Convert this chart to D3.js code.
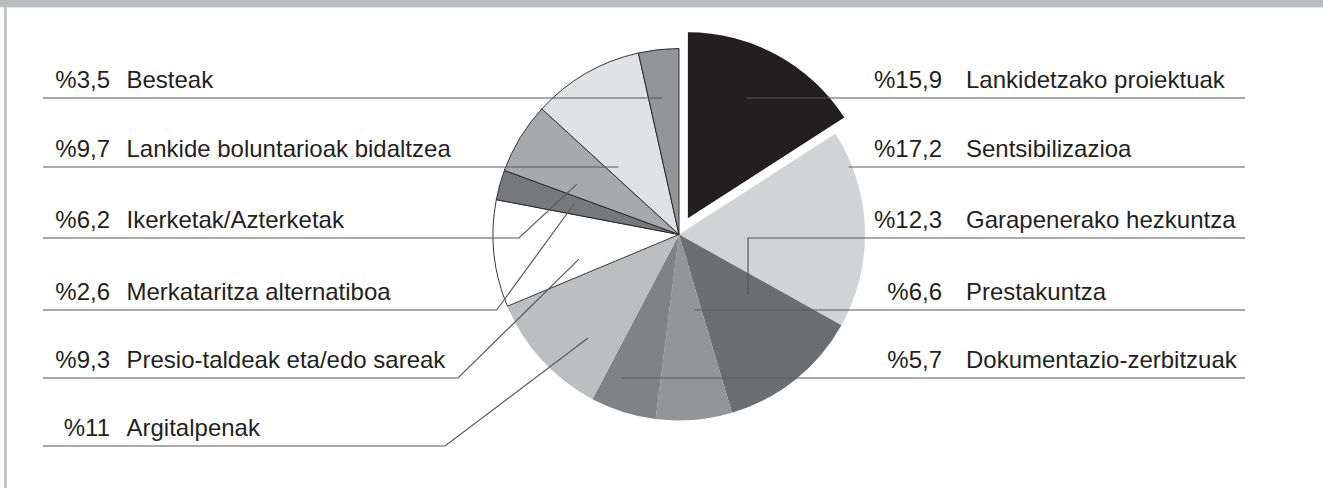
<!DOCTYPE html>
<html>
<head>
<meta charset="utf-8">
<script src="https://cdn.jsdelivr.net/npm/d3@7"></script>
<style>
  html, body { margin: 0; padding: 0; background: #ffffff; }
  svg { display: block; }
  text { font-family: "Liberation Sans", Arial, Helvetica, sans-serif; fill: #231f20; }
</style>
</head>
<body>
<svg id="chart" width="1323" height="488"></svg>
<script>
// ---- data ----
const categories = [
  "Lankidetzako proiektuak",
  "Sentsibilizazioa",
  "Garapenerako hezkuntza",
  "Prestakuntza",
  "Dokumentazio-zerbitzuak",
  "Argitalpenak",
  "Presio-taldeak eta/edo sareak",
  "Merkataritza alternatiboa",
  "Ikerketak/Azterketak",
  "Lankide boluntarioak bidaltzea",
  "Besteak"
];
const values = [15.9, 17.2, 12.3, 6.6, 5.7, 11, 9.3, 2.6, 6.2, 9.7, 3.5];
const valueLabels = ["%15,9", "%17,2", "%12,3", "%6,6", "%5,7", "%11", "%9,3", "%2,6", "%6,2", "%9,7", "%3,5"];

// ---- styling / layout (not data) ----
const colors = ["#231f20", "#d1d3d4", "#6d6e71", "#939598", "#808285", "#bcbec0",
                "#ffffff", "#77787b", "#a7a9ac", "#e1e2e3", "#939598"];
const outlined = [false, false, false, false, false, false, true, true, true, true, true];
const exploded = [true, false, false, false, false, false, false, false, false, false, false];
// label side and row (rows top to bottom)
const side = ["right", "right", "right", "right", "right", "left", "left", "left", "left", "left", "left"];
const row  = [0, 1, 2, 3, 4, 5, 4, 3, 2, 1, 0];
const rowY = [98, 167, 238, 310, 378, 446];
// leader tips in polar coords (deg clockwise from top, radius px) and optional elbow x
const tipAngle = [26.6, 68.5, 131.2, 168, 201.7, 221.3, 256.2, 286.2, 296.1, 318, 352.9];
const tipRadius = [133.5, 183, 91.8, 77.2, 154.4, 137.8, 103, 109.3, 114, 91.2, 137.3];
const elbowX = [null, null, null, null, null, 445, 458, 496.7, 519, null, null];

const W = 1323, H = 488;
const cx = 679, cy = 234.5, R = 186, explode = 18.5;

const svg = d3.select("#chart");

// frame
svg.append("rect").attr("x", 0).attr("y", 0).attr("width", W).attr("height", 7.3).attr("fill", "#bbbcbe");
svg.append("rect").attr("x", 4.2).attr("y", 0).attr("width", 2.5).attr("height", H).attr("fill", "#bbbcbe");

const pie = d3.pie().sort(null).value(d => d).startAngle(0).endAngle(2 * Math.PI);
const arcs = pie(values);
const arc = d3.arc().innerRadius(0).outerRadius(R);

const g = svg.append("g").attr("transform", `translate(${cx},${cy})`);

function offsetOf(i) {
  if (!exploded[i]) return [0, 0];
  const a = (arcs[i].startAngle + arcs[i].endAngle) / 2;
  return [explode * Math.sin(a), -explode * Math.cos(a)];
}

g.selectAll("path.slice")
  .data(arcs)
  .join("path")
  .attr("class", "slice")
  .attr("d", arc)
  .attr("transform", (d, i) => { const o = offsetOf(i); return `translate(${o[0]},${o[1]})`; })
  .attr("fill", (d, i) => colors[i])
  .attr("stroke", (d, i) => outlined[i] ? "#231f20" : "none")
  .attr("stroke-width", 0.9)
  .attr("stroke-linejoin", "round");

// leader lines
const leaders = svg.append("g").attr("fill", "none").attr("stroke", "#58595b").attr("stroke-width", 1.2);
const lineLeft = 43, lineRight = 1245;

categories.forEach((c, i) => {
  const o = offsetOf(i);
  const a = tipAngle[i] * Math.PI / 180;
  const tx = cx + o[0] + tipRadius[i] * Math.sin(a);
  const ty = cy + o[1] - tipRadius[i] * Math.cos(a);
  const y = rowY[row[i]];
  const ex = elbowX[i] != null ? elbowX[i] : tx;
  const startX = side[i] === "right" ? lineRight : lineLeft;
  const p = d3.path();
  p.moveTo(startX, y);
  p.lineTo(ex, y);
  p.lineTo(tx, ty);
  leaders.append("path").attr("d", p.toString());
});

// labels
const labels = svg.append("g").attr("font-size", 24);
categories.forEach((c, i) => {
  const y = rowY[row[i]] - 10.5;
  if (side[i] === "right") {
    labels.append("text").attr("x", 942).attr("y", y).attr("text-anchor", "end").text(valueLabels[i]);
    labels.append("text").attr("x", 966).attr("y", y).text(c);
  } else {
    labels.append("text").attr("x", 110).attr("y", y).attr("text-anchor", "end").text(valueLabels[i]);
    labels.append("text").attr("x", 126.5).attr("y", y).text(c);
  }
});
</script>
</body>
</html>
